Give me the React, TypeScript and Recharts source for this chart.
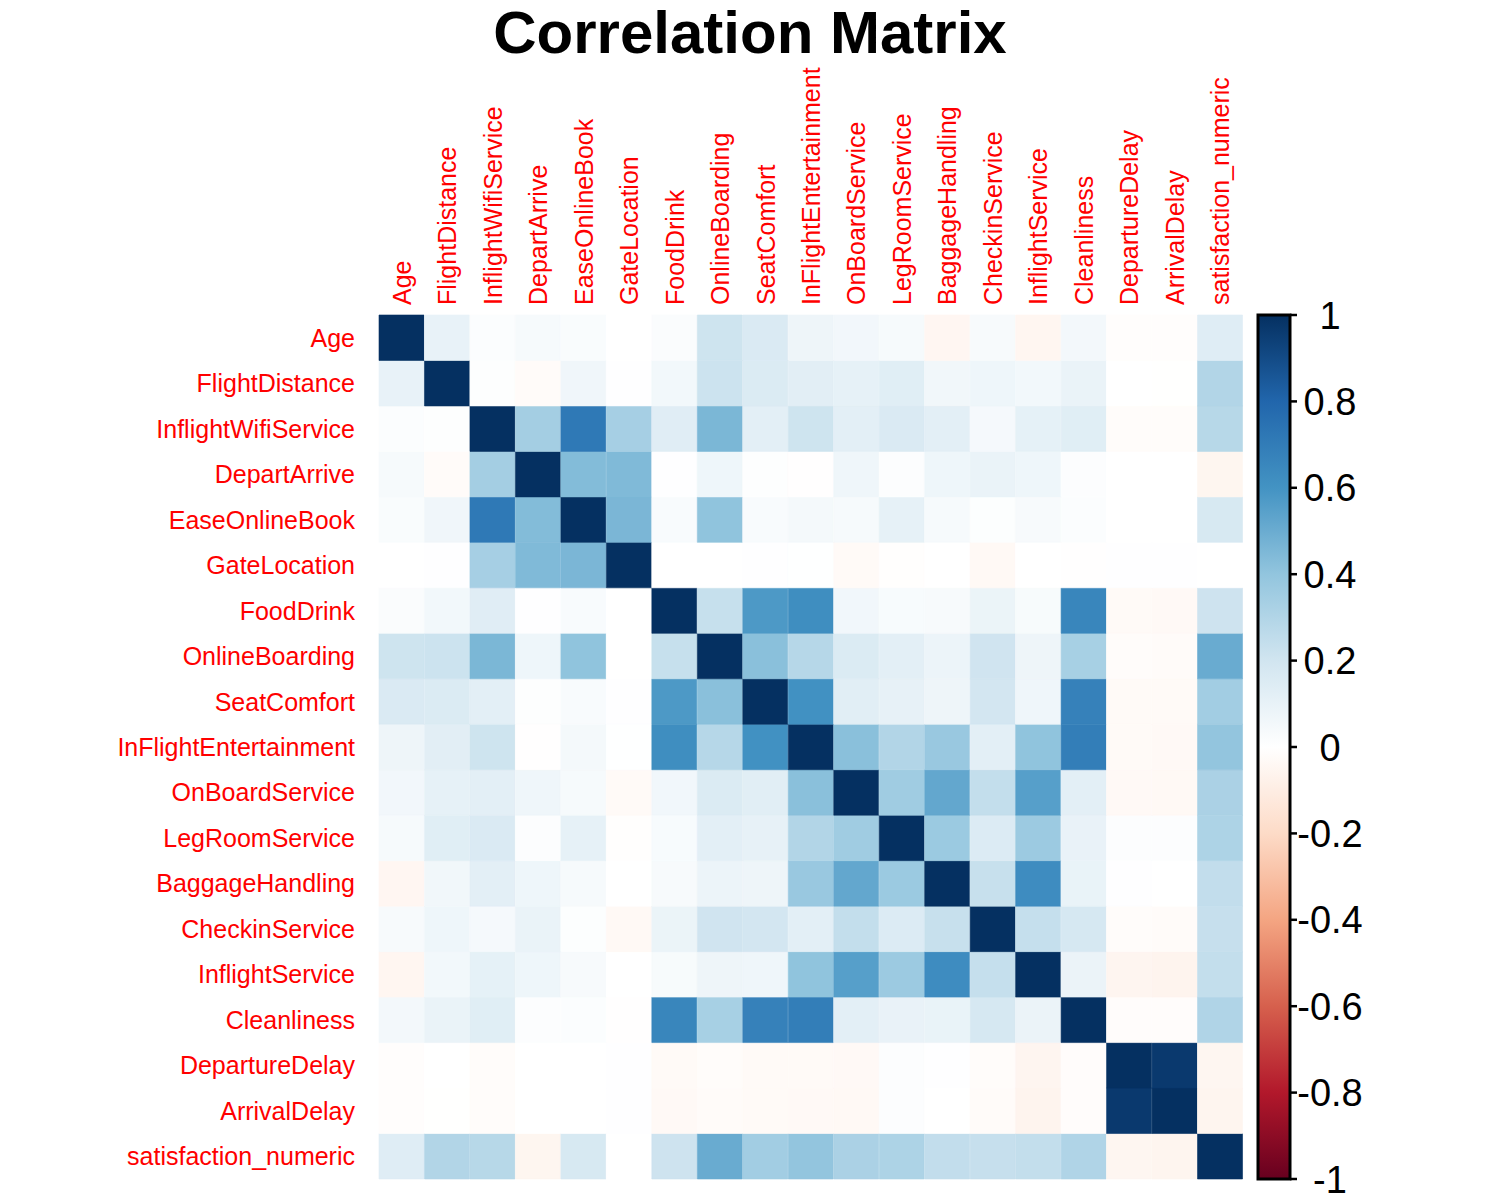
import React from 'react';
import { BarChart, Bar, XAxis, YAxis, Cell } from 'recharts';

const variables = [
  'Age', 'FlightDistance', 'InflightWifiService', 'DepartArrive', 'EaseOnlineBook',
  'GateLocation', 'FoodDrink', 'OnlineBoarding', 'SeatComfort', 'InFlightEntertainment',
  'OnBoardService', 'LegRoomService', 'BaggageHandling', 'CheckinService', 'InflightService',
  'Cleanliness', 'DepartureDelay', 'ArrivalDelay', 'satisfaction_numeric',
];

const rowAge = [1, 0.099, 0.017, 0.038, 0.024, -0.001, 0.023, 0.208, 0.160, 0.076, 0.058, 0.041, -0.048, 0.035, -0.050, 0.054, -0.010, -0.012, 0.137];
const rowFlightDistance = [0.099, 1, 0.007, -0.020, 0.066, 0.005, 0.057, 0.215, 0.157, 0.128, 0.110, 0.134, 0.063, 0.073, 0.057, 0.093, 0.002, -0.002, 0.299];
const rowWifi = [0.017, 0.007, 1, 0.344, 0.716, 0.337, 0.135, 0.457, 0.123, 0.209, 0.122, 0.161, 0.121, 0.043, 0.111, 0.133, -0.017, -0.019, 0.284];
const rowDepartArrive = [0.038, -0.020, 0.344, 1, 0.437, 0.445, 0.005, 0.072, 0.009, -0.005, 0.069, 0.012, 0.072, 0.093, 0.073, 0.014, 0.001, -0.001, -0.052];
const rowEaseOnline = [0.024, 0.066, 0.716, 0.437, 1, 0.459, 0.032, 0.404, 0.030, 0.047, 0.039, 0.107, 0.039, 0.011, 0.035, 0.016, 0.001, -0.001, 0.172];
const rowGate = [-0.001, 0.005, 0.337, 0.445, 0.459, 1, -0.001, 0.002, 0.004, 0.003, -0.028, -0.006, 0.002, -0.035, 0.002, -0.004, 0.006, 0.005, 0.000];
const rowFood = [0.023, 0.057, 0.135, 0.005, 0.032, -0.001, 1, 0.234, 0.575, 0.623, 0.059, 0.033, 0.035, 0.087, 0.034, 0.658, -0.030, -0.032, 0.210];
const rowOnlineBoarding = [0.208, 0.215, 0.457, 0.072, 0.404, 0.002, 0.234, 1, 0.420, 0.285, 0.155, 0.123, 0.083, 0.204, 0.075, 0.332, -0.018, -0.022, 0.504];
const rowSeat = [0.160, 0.157, 0.123, 0.009, 0.030, 0.004, 0.575, 0.420, 1, 0.611, 0.131, 0.105, 0.075, 0.191, 0.069, 0.679, -0.027, -0.030, 0.349];
const rowEntertainment = [0.076, 0.128, 0.209, -0.005, 0.047, 0.003, 0.623, 0.285, 0.611, 1, 0.420, 0.300, 0.379, 0.121, 0.405, 0.692, -0.028, -0.031, 0.398];
const rowOnBoard = [0.058, 0.110, 0.122, 0.069, 0.039, -0.028, 0.059, 0.155, 0.131, 0.420, 1, 0.356, 0.519, 0.244, 0.551, 0.123, -0.031, -0.035, 0.322];
const rowLegRoom = [0.041, 0.134, 0.161, 0.012, 0.107, -0.006, 0.033, 0.123, 0.105, 0.300, 0.356, 1, 0.370, 0.153, 0.369, 0.097, 0.014, 0.012, 0.313];
const rowBaggage = [-0.048, 0.063, 0.121, 0.072, 0.039, 0.002, 0.035, 0.083, 0.075, 0.379, 0.519, 0.370, 1, 0.233, 0.629, 0.096, 0.005, 0.002, 0.248];
const rowCheckin = [0.035, 0.073, 0.043, 0.093, 0.011, -0.035, 0.087, 0.204, 0.191, 0.121, 0.244, 0.153, 0.233, 1, 0.237, 0.179, -0.018, -0.020, 0.236];
const rowInflightService = [-0.050, 0.057, 0.111, 0.073, 0.035, 0.002, 0.034, 0.075, 0.069, 0.405, 0.551, 0.369, 0.629, 0.237, 1, 0.089, -0.054, -0.059, 0.245];
const rowCleanliness = [0.054, 0.093, 0.133, 0.014, 0.016, -0.004, 0.658, 0.332, 0.679, 0.692, 0.123, 0.097, 0.096, 0.179, 0.089, 1, -0.014, -0.016, 0.305];
const rowDepDelay = [-0.010, 0.002, -0.017, 0.001, 0.001, 0.006, -0.030, -0.018, -0.027, -0.028, -0.031, 0.014, 0.005, -0.018, -0.054, -0.014, 1, 0.965, -0.051];
const rowArrDelay = [-0.012, -0.002, -0.019, -0.001, -0.001, 0.005, -0.032, -0.022, -0.030, -0.031, -0.035, 0.012, 0.002, -0.020, -0.059, -0.016, 0.965, 1, -0.058];
const rowSatisfaction = [0.137, 0.299, 0.284, -0.052, 0.172, 0.000, 0.210, 0.504, 0.349, 0.398, 0.322, 0.313, 0.248, 0.236, 0.245, 0.305, -0.051, -0.058, 1];

const corrRows = [
  rowAge, rowFlightDistance, rowWifi, rowDepartArrive, rowEaseOnline, rowGate, rowFood,
  rowOnlineBoarding, rowSeat, rowEntertainment, rowOnBoard, rowLegRoom, rowBaggage,
  rowCheckin, rowInflightService, rowCleanliness, rowDepDelay, rowArrDelay, rowSatisfaction,
];

const colorbarTicks = [-1, -0.8, -0.6, -0.4, -0.2, 0, 0.2, 0.4, 0.6, 0.8, 1];
const paletteStops = ['#67001F', '#B2182B', '#D6604D', '#F4A582', '#FDDBC7', '#FFFFFF', '#D1E5F0', '#92C5DE', '#4393C3', '#2166AC', '#053061'];

const hexToRgb = (h: string) => [parseInt(h.slice(1, 3), 16), parseInt(h.slice(3, 5), 16), parseInt(h.slice(5, 7), 16)];
const corrColor = (v: number) => {
  const t = ((Math.max(-1, Math.min(1, v)) + 1) / 2) * (paletteStops.length - 1);
  const i = Math.min(paletteStops.length - 2, Math.floor(t));
  const f = t - i;
  const a = hexToRgb(paletteStops[i]);
  const b = hexToRgb(paletteStops[i + 1]);
  const c = a.map((x, k) => Math.round(x + (b[k] - x) * f));
  return `rgb(${c[0]},${c[1]},${c[2]})`;
};

const n = variables.length;
const heatData = variables.map((name) => {
  const d: any = { name };
  for (let k = 0; k < n; k++) d[`s${k}`] = 1;
  return d;
});
const yTicks = variables.map((_, k) => k + 0.5);

const FONT = '"Liberation Sans", Arial, sans-serif';

const TopTick = (props: any) => {
  const { x, y, payload } = props;
  return (
    <text x={x} y={y} transform={`rotate(-90, ${x}, ${y})`} textAnchor="start" dy="0.36em" fill="#FF0000" fontSize={25} fontFamily={FONT}>
      {payload.value}
    </text>
  );
};

const LeftTick = (props: any) => {
  const { x, y, payload } = props;
  const k = Math.round(payload.value - 0.5);
  return (
    <text x={x} y={y} textAnchor="end" dy="0.36em" fill="#FF0000" fontSize={25} fontFamily={FONT}>
      {variables[n - 1 - k]}
    </text>
  );
};

const CbTick = (props: any) => {
  const { x, y, payload } = props;
  return (
    <text x={x + 31} y={y} textAnchor="middle" dy="0.36em" fill="#000" fontSize={38} fontFamily={FONT}>
      {String(payload.value)}
    </text>
  );
};

const colorbarData = [{ name: 'cb', range: [-1, 1] }];

export default function App() {
  return (
    <div style={{ position: 'absolute', left: 0, top: 0, width: 1500, height: 1200, background: '#fff' }}>
      <div style={{ position: 'absolute', left: 0, top: 3, width: 1500, textAlign: 'center', fontFamily: FONT, fontWeight: 'bold', fontSize: 60, lineHeight: '60px', color: '#000' }}>
        Correlation Matrix
      </div>
      <div style={{ position: 'absolute', left: 0, top: 0 }}>
        <BarChart width={1500} height={1200} data={heatData} barCategoryGap={0} margin={{ top: 65, left: 109, right: 257, bottom: 21 }}>
          <XAxis dataKey="name" type="category" orientation="top" height={250} interval={0} tickLine={false} axisLine={false} tickSize={0} tickMargin={10} tick={<TopTick />} />
          <YAxis type="number" domain={[0, n]} ticks={yTicks} width={270} interval={0} tickLine={false} axisLine={false} tickSize={0} tickMargin={24} tick={<LeftTick />} allowDecimals />
          {variables.map((_, k) => (
            <Bar key={k} dataKey={`s${k}`} stackId="a" isAnimationActive={false}>
              {variables.map((__, c) => {
                const col = corrColor(corrRows[n - 1 - k][c]);
                return <Cell key={c} fill={col} stroke={col} strokeWidth={0.6} />;
              })}
            </Bar>
          ))}
        </BarChart>
      </div>
      <div style={{ position: 'absolute', left: 1250, top: 0 }}>
        <BarChart width={250} height={1200} data={colorbarData} barCategoryGap={0} margin={{ top: 315, left: 8, right: 130, bottom: 21 }}>
          <defs>
            <linearGradient id="cbGrad" x1="0" y1="0" x2="0" y2="1">
              {paletteStops.slice().reverse().map((c, i) => (
                <stop key={i} offset={`${(i / (paletteStops.length - 1)) * 100}%`} stopColor={c} />
              ))}
            </linearGradient>
          </defs>
          <XAxis dataKey="name" type="category" hide />
          <YAxis type="number" orientation="right" domain={[-1, 1]} ticks={colorbarTicks} interval={0} width={80} axisLine={false} tickLine={{ stroke: '#000', strokeWidth: 2.5 }} tickSize={7} tickMargin={2} tick={<CbTick />} />
          <Bar dataKey="range" fill="url(#cbGrad)" stroke="#000" strokeWidth={3} isAnimationActive={false} />
        </BarChart>
      </div>
    </div>
  );
}
